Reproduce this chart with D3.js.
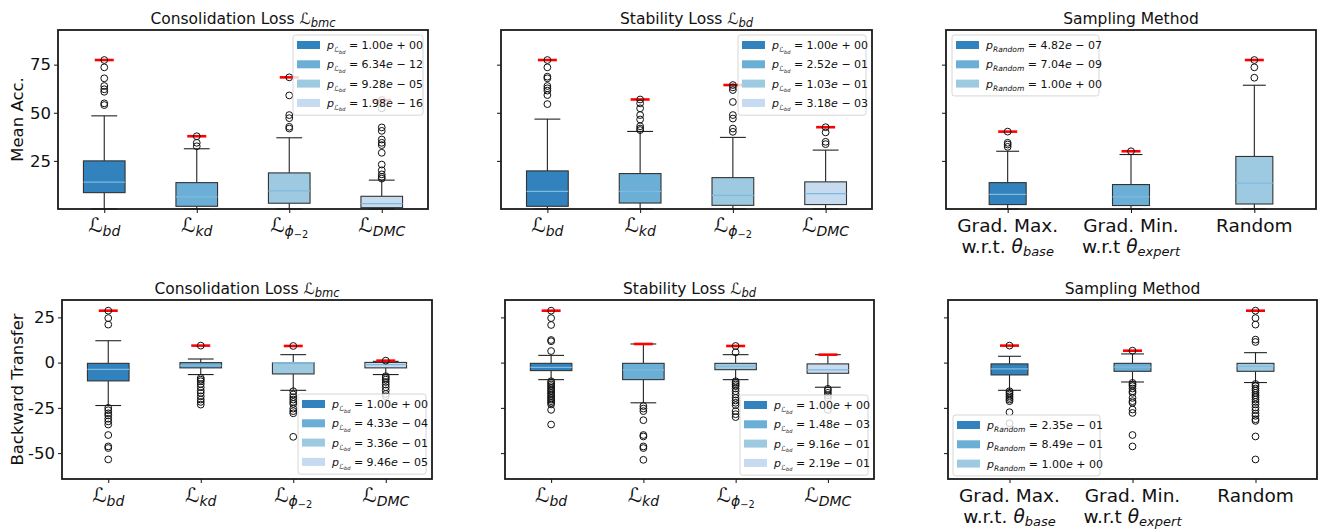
<html>
<head>
  <script src="https://d3js.org/d3.v7.min.js"></script>
  <style>
    body { margin: 0; background: white; }
    text { font-family: "DejaVu Sans", sans-serif; fill: #111; }
  </style>
</head>
<body>
  <svg id="chart" width="1320" height="529"></svg>
  <script>
    // ---- categories / tick labels ----
    const lossSubs = ["bd", "kd", "phi", "DMC"];
    const samplingNames = ["Grad. Max.", "Grad. Min.", "Random"];
    const samplingWrt = ["w.r.t. ", "w.r.t ", ""];
    const samplingTheta = ["base", "expert", ""];
    const accTicks = [25, 50, 75];
    const btTicks = [-50, -25, 0, 25];
    const colors = ["#3182bd", "#6baed6", "#9ecae1", "#c6dbef"];

    // ---- box stats: [lower whisker, q1, median, q3, upper whisker] ----
    // Mean Acc., consolidation loss
    const accConsBoxes = [[0, 8.5, 14, 25, 48.4], [0, 1.4, 6.3, 13.7, 31.3], [0, 3, 9.4, 18.75, 37], [0, 0.7, 2.8, 6.6, 15]];
    const accConsOutliers = [
      [54, 54.9, 60.9, 62.2, 63.9, 67.9, 73.6, 77.4],
      [32.6, 34.4, 37.8],
      [41.8, 42.7, 47.2, 48.8, 59, 68.4],
      [15.8, 16.7, 18, 20.1, 23.1, 29.2, 33.2, 34.4, 36.1, 40.6, 42.4, 52.3, 56.6]
    ];
    const accConsP = ["1.00e+00", "6.34e-12", "9.28e-05", "1.98e-16"];

    // Mean Acc., stability loss
    const accStabBoxes = [[0, 1.4, 9.2, 19.8, 46.7], [0, 3.1, 9.2, 18.4, 40.3], [0, 1.9, 7.1, 16.3, 37.2], [0, 2.3, 8, 14.1, 30.6]];
    const accStabOutliers = [
      [54.5, 59.2, 61.5, 62.7, 63.9, 67.9, 68.75, 73.6, 77.4],
      [41, 41.8, 43, 46.5, 48.8, 52.3, 54.9, 56.9],
      [40.1, 41.8, 47, 48.8, 55.6, 61.8, 63.2, 64.4],
      [33.7, 34.9, 39.8, 42.5]
    ];
    const accStabP = ["1.00e+00", "2.52e-01", "1.03e-01", "3.18e-03"];

    // Mean Acc., sampling method
    const accSampBoxes = [[0, 2.3, 7.6, 13.7, 30], [0, 1.8, 6.3, 12.7, 28.3], [0, 2.6, 13.4, 27.3, 64.3]];
    const accSampOutliers = [[32.3, 33.5, 34.4, 40.2], [30], [68.2, 73.6, 77.4]];
    const accSampP = ["4.82e-07", "7.04e-09", "1.00e+00"];

    // Backward transfer, consolidation loss
    const btConsBoxes = [[-23.7, -10.1, -3.7, -0.4, 12.1], [-6.6, -2.9, -1.7, 0, 2], [-15.3, -6.25, 0, 0, 4.4], [-6.6, -2.9, -1.1, 0.1, 0.7]];
    const btConsOutliers = [
      [21, 24.6, 28.7, -25, -26.3, -28, -29.2, -31, -32.5, -34.2, -40, -46.3, -47.2, -53.5],
      [9.4, -8.5, -9.4, -10.3, -11.8, -13.6, -15.4, -16.7, -18.6, -20.4, -21.7, -23.2],
      [9.2, -15.8, -17.6, -19.1, -20.4, -21.7, -22.8, -25.4, -26.8, -28, -41],
      [1.1, -7.5, -8.5, -9.4, -10.7, -12.1, -13.6, -15.4, -17.3, -18.6]
    ];
    const btConsP = ["1.00e+00", "4.33e-04", "3.36e-01", "9.46e-05"];

    // Backward transfer, stability loss
    const btStabBoxes = [[-9.4, -4.4, -2.6, -0.4, 4], [-22.2, -9.4, -4, -0.4, 10.3], [-9.4, -3.9, -2, -0.4, 4.4], [-13.6, -5.9, -4, -0.7, 4.4]];
    const btStabOutliers = [
      [6.4, 11.8, 12.5, 20.8, 24.6, 28.7, -10.3, -11.2, -12.1, -13, -14, -14.9, -15.8, -16.7, -17.6, -18.6, -19.5, -20.4, -21.3, -22.2, -23.1, -26.1, -34.2],
      [-24, -25.4, -26.8, -31.8, -40, -40.8, -46.3, -47.2, -53.7],
      [5.7, 9.2, -10.3, -11.2, -12.1, -13, -14.3, -15.8, -17.6, -19.5, -20.9, -22.2, -23.5, -26.8, -28.5, -30.1],
      [-14.5, -15.4, -16.7, -18, -19.5, -26.1]
    ];
    const btStabP = ["1.00e+00", "1.48e-03", "9.16e-01", "2.19e-01"];

    // Backward transfer, sampling method
    const btSampBoxes = [[-15.3, -6.8, -3.5, -0.7, 3.5], [-10.7, -4.8, -2.5, -0.4, 4.8], [-11, -4.8, -2, -0.4, 5.5]];
    const btSampOutliers = [
      [9.4, -15.8, -16.7, -17.6, -18.6, -19.5, -20.4, -21.3, -27.4, -33.5],
      [6.6, -11.2, -12.1, -13, -14.3, -15.8, -16.7, -19.5, -21.3, -22.2, -25.9, -27.8, -40, -46.3],
      [11.4, 12.7, 21, 24.6, 28.7, -11.8, -13, -14.3, -15.4, -16.7, -18, -19.1, -20.4, -21.7, -23.1, -24.8, -26.3, -28.1, -29.4, -31.3, -32.2, -40.8, -53.5]
    ];
    const btSampP = ["2.35e-01", "8.49e-01", "1.00e+00"];

    const svg = d3.select("#chart");
    const medianColor = "#7fb9de";

    function addScriptL(text, sub, size, subSize, shift) {
      text.append("tspan").attr("font-size", size).text("ℒ");
      if (sub === "phi") {
        text.append("tspan").attr("font-size", subSize).attr("font-style", "italic").attr("dy", shift).text("ϕ");
        text.append("tspan").attr("font-size", subSize * 0.7).attr("dy", shift * 0.6).text("−2");
      } else {
        text.append("tspan").attr("font-size", subSize).attr("font-style", "italic").attr("dy", shift).text(sub);
      }
    }

    function addPValue(text, val, kind) {
      text.append("tspan").attr("font-style", "italic").text("p");
      if (kind === "loss") {
        text.append("tspan").attr("font-size", 7).attr("dy", 3).text("ℒ");
        text.append("tspan").attr("font-size", 5).attr("font-style", "italic").attr("dy", 1.5).text("bd");
        text.append("tspan").attr("dy", -4.5).text(" = ");
      } else {
        text.append("tspan").attr("font-size", 7.5).attr("font-style", "italic").attr("dy", 3).text("Random");
        text.append("tspan").attr("dy", -3).text(" = ");
      }
      const [mant, exp] = val.split("e");
      const sign = exp[0] === "-" ? "−" : "+";
      text.append("tspan").text(mant);
      text.append("tspan").attr("font-style", "italic").text("e");
      text.append("tspan").text(" " + sign + " " + exp.slice(1));
    }

    function drawPanel(p) {
      const n = p.boxes.length;
      const x = d3.scaleLinear().domain([0.5, n + 0.5]).range([p.x0, p.x1]);
      const y = d3.scaleLinear().domain(p.domain).range([p.y1, p.y0]);
      const bw = Math.min(0.5, Math.max(0.15, 0.15 * (n - 1)));
      const half = x(1 + bw / 2) - x(1);
      const cap = half * 0.62;
      const g = svg.append("g");

      // boxes
      p.boxes.forEach((b, i) => {
        const cx = x(i + 1);
        const [lo, q1, med, q3, hi] = b;
        g.append("line").attr("x1", cx).attr("x2", cx).attr("y1", y(lo)).attr("y2", y(q1))
          .attr("stroke", "#222").attr("stroke-width", 1.1);
        g.append("line").attr("x1", cx).attr("x2", cx).attr("y1", y(q3)).attr("y2", y(hi))
          .attr("stroke", "#222").attr("stroke-width", 1.1);
        [lo, hi].forEach(v => {
          g.append("line").attr("x1", cx - cap).attr("x2", cx + cap).attr("y1", y(v)).attr("y2", y(v))
            .attr("stroke", "#222").attr("stroke-width", 1.1);
        });
        g.append("rect")
          .attr("x", cx - half).attr("width", 2 * half)
          .attr("y", y(q3)).attr("height", y(q1) - y(q3))
          .attr("fill", colors[i]).attr("stroke", "#333").attr("stroke-width", 1.1);
        g.append("line").attr("x1", cx - half).attr("x2", cx + half).attr("y1", y(med)).attr("y2", y(med))
          .attr("stroke", medianColor).attr("stroke-width", 1.2);
      });

      // red max markers
      p.outliers.forEach((o, i) => {
        const top = d3.max(o.concat([p.boxes[i][4]]));
        const cx = x(i + 1);
        g.append("line").attr("x1", cx - 9.5).attr("x2", cx + 9.5).attr("y1", y(top)).attr("y2", y(top))
          .attr("stroke", "red").attr("stroke-width", 2.6);
      });

      // outliers
      p.outliers.forEach((o, i) => {
        g.selectAll(null).data(o).enter().append("circle")
          .attr("cx", x(i + 1)).attr("cy", d => y(d)).attr("r", 3.4)
          .attr("fill", "none").attr("stroke", "#111").attr("stroke-width", 1);
      });

      // axes
      const yAxis = g.append("g").attr("transform", `translate(${p.x0},0)`)
        .call(d3.axisLeft(y).tickValues(p.ticks).tickSize(4).tickPadding(3)
          .tickFormat(p.showLabels ? (d => String(d)) : ""));
      yAxis.select(".domain").remove();
      yAxis.selectAll("text").attr("font-size", 16.5).attr("font-family", "DejaVu Sans").attr("fill", "#111");
      yAxis.selectAll("line").attr("stroke", "#111");

      const xAxis = g.append("g").attr("transform", `translate(0,${p.y1})`)
        .call(d3.axisBottom(x).tickValues(d3.range(1, n + 1)).tickSize(4).tickFormat(""));
      xAxis.select(".domain").remove();
      xAxis.selectAll("line").attr("stroke", "#111");

      // x labels
      if (p.kind === "loss") {
        lossSubs.forEach((s, i) => {
          const t = g.append("text").attr("x", x(i + 1)).attr("y", p.y1 + 23).attr("text-anchor", "middle");
          addScriptL(t, s, 20, 14, 4);
        });
      } else {
        samplingNames.forEach((s, i) => {
          g.append("text").attr("x", x(i + 1)).attr("y", p.y1 + 22.5).attr("text-anchor", "middle")
            .attr("font-size", 18.5).text(s);
          if (samplingTheta[i]) {
            const t = g.append("text").attr("x", x(i + 1)).attr("y", p.y1 + 43.5).attr("text-anchor", "middle")
              .attr("font-size", 18.5);
            t.append("tspan").text(samplingWrt[i]);
            t.append("tspan").attr("font-style", "italic").text("θ");
            t.append("tspan").attr("font-style", "italic").attr("font-size", 13).attr("dy", 3.5).text(samplingTheta[i]);
          }
        });
      }

      // frame
      g.append("rect").attr("x", p.x0).attr("y", p.y0).attr("width", p.x1 - p.x0).attr("height", p.y1 - p.y0)
        .attr("fill", "none").attr("stroke", "#1a1a1a").attr("stroke-width", 1.8);

      // title
      const title = g.append("text").attr("x", (p.x0 + p.x1) / 2).attr("y", p.y0 - 6)
        .attr("text-anchor", "middle").attr("font-size", 15.5);
      if (p.titleSub) {
        title.append("tspan").text(p.title + " ");
        title.append("tspan").text("ℒ");
        title.append("tspan").attr("font-style", "italic").attr("font-size", 11.5).attr("dy", 3).text(p.titleSub);
      } else {
        title.text(p.title);
      }

      // y label
      if (p.yLabel) {
        g.append("text").attr("transform", `translate(23,${(p.y0 + p.y1) / 2}) rotate(-90)`)
          .attr("text-anchor", "middle").attr("font-size", 16.5).text(p.yLabel);
      }

      // legend
      const L = p.legend;
      const rowH = 19.3;
      const lh = n * rowH + 3;
      const lg = g.append("g").attr("transform", `translate(${L.x},${L.y})`);
      lg.append("rect").attr("width", L.w).attr("height", lh).attr("rx", 2.5)
        .attr("fill", "white").attr("fill-opacity", 0.8).attr("stroke", "#cccccc").attr("stroke-width", 0.8);
      p.pvals.forEach((v, i) => {
        const cy = 10 + i * rowH;
        lg.append("rect").attr("x", 4).attr("y", cy - 4).attr("width", 23).attr("height", 8).attr("fill", colors[i]);
        const t = lg.append("text").attr("x", 34).attr("y", cy + 4).attr("font-size", 11);
        addPValue(t, v, p.kind);
      });
    }

    const topY = [30, 209];
    const botY = [300, 479];
    const accDomain = [0, 93];
    const btDomain = [-64.3, 34.6];

    drawPanel({ x0: 58, x1: 428, y0: topY[0], y1: topY[1], domain: accDomain, ticks: accTicks, showLabels: true,
      yLabel: "Mean Acc.", title: "Consolidation Loss", titleSub: "bmc", kind: "loss",
      boxes: accConsBoxes, outliers: accConsOutliers, pvals: accConsP, legend: { x: 293, y: 35, w: 130 } });
    drawPanel({ x0: 501, x1: 872, y0: topY[0], y1: topY[1], domain: accDomain, ticks: accTicks, showLabels: false,
      title: "Stability Loss", titleSub: "bd", kind: "loss",
      boxes: accStabBoxes, outliers: accStabOutliers, pvals: accStabP, legend: { x: 738, y: 35, w: 128 } });
    drawPanel({ x0: 946, x1: 1316, y0: topY[0], y1: topY[1], domain: accDomain, ticks: accTicks, showLabels: false,
      title: "Sampling Method", kind: "sampling",
      boxes: accSampBoxes, outliers: accSampOutliers, pvals: accSampP, legend: { x: 952, y: 35, w: 147 } });

    drawPanel({ x0: 62, x1: 432, y0: botY[0], y1: botY[1], domain: btDomain, ticks: btTicks, showLabels: true,
      yLabel: "Backward Transfer", title: "Consolidation Loss", titleSub: "bmc", kind: "loss",
      boxes: btConsBoxes, outliers: btConsOutliers, pvals: btConsP, legend: { x: 298, y: 394, w: 128 } });
    drawPanel({ x0: 505, x1: 874, y0: botY[0], y1: botY[1], domain: btDomain, ticks: btTicks, showLabels: false,
      title: "Stability Loss", titleSub: "bd", kind: "loss",
      boxes: btStabBoxes, outliers: btStabOutliers, pvals: btStabP, legend: { x: 740, y: 395, w: 128 } });
    drawPanel({ x0: 948, x1: 1317, y0: botY[0], y1: botY[1], domain: btDomain, ticks: btTicks, showLabels: false,
      title: "Sampling Method", kind: "sampling",
      boxes: btSampBoxes, outliers: btSampOutliers, pvals: btSampP, legend: { x: 953, y: 415, w: 147 } });
  </script>
</body>
</html>
